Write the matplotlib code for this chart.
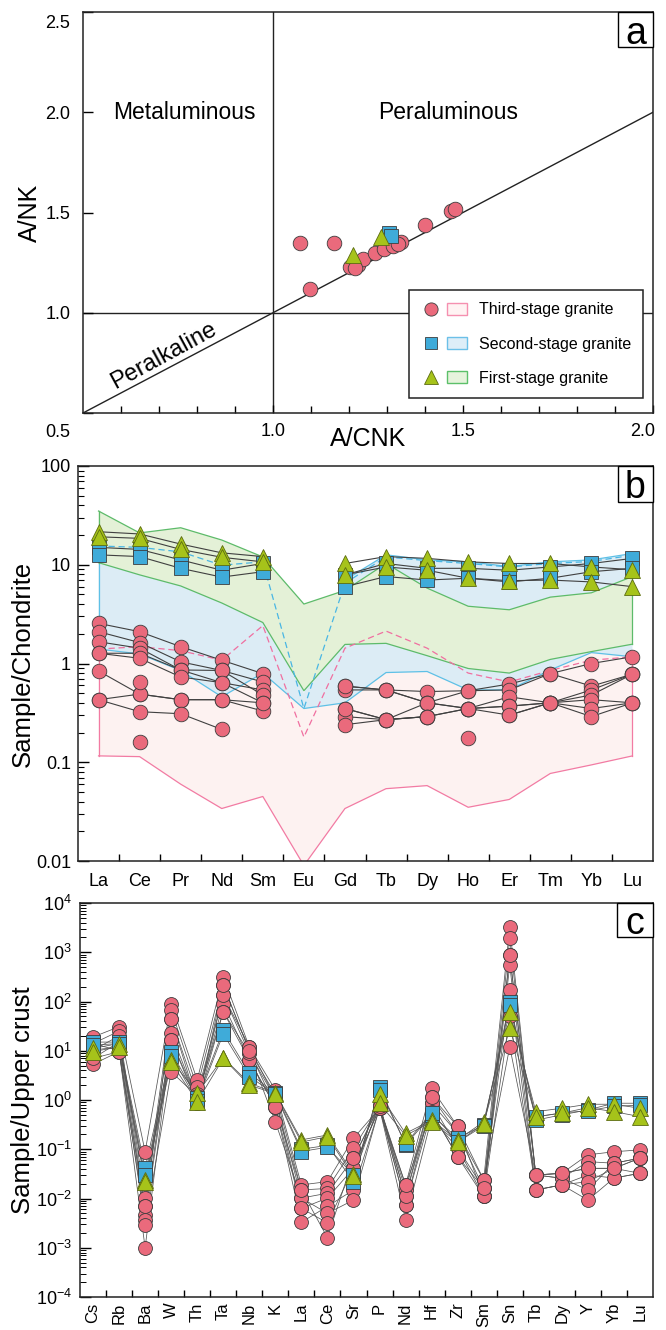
import numpy as np
import matplotlib
matplotlib.use('Agg')
import matplotlib.pyplot as plt
from matplotlib.lines import Line2D
from matplotlib.patches import Patch, Rectangle
from matplotlib.legend_handler import HandlerTuple
import matplotlib.transforms as mtransforms
from matplotlib.ticker import LogLocator, FixedLocator, NullFormatter, LogFormatterSciNotation

plt.rcParams['font.family'] = ['Liberation Sans', 'DejaVu Sans']
plt.rcParams['mathtext.fontset'] = 'custom'
plt.rcParams['mathtext.rm'] = 'Liberation Sans'
plt.rcParams['mathtext.it'] = 'Liberation Sans:italic'
plt.rcParams['mathtext.bf'] = 'Liberation Sans:bold'
nan = np.nan

# ---------------- Panel a data (A/CNK vs A/NK) ----------------
a_third_x = [1.072, 1.161, 1.098, 1.203, 1.223, 1.237, 1.268, 1.293, 1.315, 1.338, 1.400, 1.469, 1.480, 1.215, 1.330]
a_third_y = [1.346, 1.346, 1.120, 1.230, 1.238, 1.267, 1.300, 1.320, 1.333, 1.355, 1.440, 1.509, 1.516, 1.225, 1.345]
a_second_x = [1.306, 1.310]
a_second_y = [1.400, 1.385]
a_first_x = [1.210, 1.284]
a_first_y = [1.290, 1.376]

# ---------------- Panel b data (REE / chondrite) ----------------
ree = ['La', 'Ce', 'Pr', 'Nd', 'Sm', 'Eu', 'Gd', 'Tb', 'Dy', 'Ho', 'Er', 'Tm', 'Yb', 'Lu']
b_third = [
    [2.55, 2.10, 1.48, 1.08, 0.79, nan, 0.59, 0.54, 0.52, 0.53, 0.62, 0.79, 1.00, 1.17],
    [2.10, 1.63, 1.04, 0.85, 0.65, nan, 0.54, 0.54, 0.40, 0.53, 0.54, 0.79, 0.59, 0.78],
    [1.66, 1.43, 0.86, 0.64, 0.54, nan, 0.59, 0.54, 0.40, 0.35, 0.46, 0.40, 0.54, 0.78],
    [1.27, 1.27, 0.86, 0.85, 0.48, nan, 0.35, 0.27, 0.40, 0.35, 0.37, 0.40, 0.48, 0.78],
    [1.27, 1.13, 0.73, 0.64, 0.40, nan, 0.29, 0.27, 0.29, 0.35, 0.30, 0.40, 0.43, 0.40],
    [0.84, 0.49, 0.43, 0.43, 0.33, nan, 0.24, 0.27, 0.29, 0.35, 0.37, 0.40, 0.35, 0.40],
    [0.43, 0.49, 0.43, 0.43, 0.40, nan, 0.35, 0.27, 0.29, nan, 0.30, 0.40, 0.29, 0.40],
    [0.43, 0.325, 0.31, 0.215, nan, nan, nan, nan, nan, 0.175, nan, nan, nan, nan],
    [nan, 0.65, nan, nan, nan, nan, nan, nan, nan, nan, nan, nan, nan, nan],
    [nan, 0.16, nan, nan, nan, nan, nan, nan, nan, nan, nan, nan, nan, nan],
]
b_second = [
    [15.0, 14.3, 11.2, 8.8, 10.3, nan, 7.9, 10.3, 9.2, 9.2, 8.8, 9.5, 10.3, 11.6],
    [12.6, 12.1, 9.2, 7.5, 8.5, nan, 6.0, 7.6, 7.0, 7.3, 6.7, 7.3, 8.5, 9.2],
]
b_first = [
    [21.6, 20.5, 16.2, 13.2, 12.1, nan, 10.3, 12.1, 11.6, 10.7, 10.3, 10.3, 9.5, 8.9],
    [19.2, 18.5, 14.3, 11.9, 10.7, nan, 7.9, 9.5, 8.8, 7.3, 6.9, 7.0, 6.7, 6.0],
]
# reference fields
field_third_up = [1.40, 1.25, 0.85, 0.46, 0.80, 0.35, 0.40, 0.81, 0.83, 0.54, 0.54, 0.86, 1.29, 1.17]
field_third_lo = [0.116, 0.114, 0.060, 0.034, 0.045, 0.009, 0.034, 0.054, 0.058, 0.035, 0.042, 0.077, 0.094, 0.116]
field_second_up = [15.0, 15.0, 13.0, 10.0, 11.0, 0.50, 7.0, 12.6, 11.2, 10.7, 9.6, 10.7, 11.2, 13.0]
field_second_lo = [1.40, 1.25, 0.85, 0.46, 0.80, 0.35, 0.40, 0.81, 0.83, 0.54, 0.54, 0.86, 1.29, 1.17]
field_first_up = [35.0, 21.0, 23.7, 17.8, 12.0, 4.0, 5.5, 10.3, 5.8, 3.8, 3.5, 4.7, 5.2, 7.6]
field_first_lo = [10.5, 7.9, 6.1, 4.1, 2.6, 0.53, 1.56, 1.60, 1.20, 0.89, 0.80, 1.10, 1.32, 1.57]
dash_third = [1.40, 1.48, 1.35, 1.08, 2.42, 0.18, 1.43, 2.13, 1.43, 0.80, 0.65, 0.85, 1.08, 1.17]
dash_second = [15.5, 15.0, 13.5, 9.9, 10.7, 0.35, 6.5, 12.0, 11.0, 10.3, 9.5, 10.3, 10.8, 12.5]

# ---------------- Panel c data (upper crust normalised) ----------------
elems = ['Cs', 'Rb', 'Ba', 'W', 'Th', 'Ta', 'Nb', 'K', 'La', 'Ce', 'Sr', 'P', 'Nd', 'Hf', 'Zr',
         'Sm', 'Sn', 'Tb', 'Dy', 'Y', 'Yb', 'Lu']
c_third = [
    [19.0, 30.7, 0.089, 91, 2.55, 318, 12.0, 1.60, 0.0189, 0.022, 0.167, 0.68, 0.0189, 1.73, 0.29, 0.024, 3270, 0.030, 0.0325, 0.077, 0.089, 0.097],
    [14.0, 25.0, 0.0102, 67, 1.80, 214, 10.0, 1.30, 0.0149, 0.016, 0.105, 0.75, 0.0149, 1.17, 0.21, 0.016, 1910, 0.030, 0.0258, 0.056, 0.052, 0.066],
    [10.3, 20.0, 0.0069, 45, 1.30, 134, 8.9, 1.08, 0.0102, 0.0128, 0.066, 0.80, 0.0110, 0.86, 0.105, 0.011, 870, 0.030, 0.0325, 0.041, 0.041, 0.066],
    [7.0, 15.0, 0.0047, 22.5, 1.00, 91, 6.5, 0.73, 0.0063, 0.0102, 0.041, 0.70, 0.0075, 0.58, 0.071, 0.011, 548, 0.0149, 0.0189, 0.030, 0.026, 0.0325],
    [5.3, 9.6, 0.0037, 16.5, 0.86, 62, 6.5, 0.73, 0.0033, 0.0069, 0.0149, 0.68, 0.0037, 0.43, 0.105, 0.016, 170, 0.0149, 0.0189, 0.022, 0.041, 0.0325],
    [10.3, 12.0, 0.0029, 3.75, 1.20, 62, 8.9, 0.36, 0.0102, 0.0050, 0.0093, 0.70, 0.0075, 0.86, 0.21, 0.024, 12, 0.030, 0.0258, 0.0149, 0.052, 0.066],
    [14.0, 10.0, 0.0010, 16.5, 1.00, 134, 12.0, 1.08, 0.0063, 0.0032, 0.041, 0.68, 0.0110, 1.17, 0.29, 0.011, 50, 0.0149, 0.0189, 0.0093, 0.026, 0.0325],
    [7.0, 9.6, 0.0069, 45, 0.86, 214, 10.0, 0.73, 0.0149, 0.0016, 0.066, 0.75, 0.0189, 0.58, 0.071, 0.016, 870, 0.030, 0.0325, 0.041, 0.041, 0.066],
]
c_second = [
    [15.0, 15.0, 0.041, 9.6, 1.08, 26.0, 3.5, 1.37, 0.100, 0.120, 0.022, 1.86, 0.122, 0.50, 0.167, 0.31, 98, 0.39, 0.50, 0.63, 0.86, 0.86],
    [13.0, 14.0, 0.030, 8.0, 0.95, 22.0, 3.0, 1.30, 0.090, 0.110, 0.030, 1.60, 0.130, 0.55, 0.140, 0.30, 85, 0.45, 0.55, 0.60, 0.75, 0.78],
]
c_first = [
    [11.2, 14.0, 0.024, 6.5, 1.37, 7.2, 2.2, 1.40, 0.155, 0.195, 0.032, 1.30, 0.21, 0.39, 0.155, 0.36, 62, 0.58, 0.68, 0.82, 0.82, 0.68],
    [9.6, 12.0, 0.022, 5.8, 0.92, 7.0, 2.0, 1.35, 0.140, 0.180, 0.028, 0.86, 0.19, 0.36, 0.140, 0.33, 28.5, 0.46, 0.54, 0.70, 0.58, 0.46],
]
c_yticks = [1e-4, 1e-3, 1e-2, 1e-1, 1e0, 1e1, 1e2, 1e3, 1e4]

# ---------------- styling ----------------
C_PINK = '#ea6a7c'
C_BLUE = '#3fabd9'
C_GREEN = '#a6c31a'
E_MARK = '#3d3d3d'
E_GREEN = '#5b6b10'

W_PX, H_PX = 666, 1330
fig = plt.figure(figsize=(W_PX / 100, H_PX / 100), dpi=100)


def axes_px(left, top, right, bottom):
    return fig.add_axes([left / W_PX, 1 - bottom / H_PX, (right - left) / W_PX, (bottom - top) / H_PX])


def corner_label(ax, s, w_px, h_px, fs=27):
    bb = ax.get_position()
    W = bb.width * W_PX
    H = bb.height * H_PX
    ax.add_patch(Rectangle((1 - w_px / W, 1 - h_px / H), w_px / W, h_px / H, transform=ax.transAxes,
                           fc='white', ec='black', lw=1.0, zorder=20, clip_on=False))
    ax.text(1 - w_px / W / 2, 1 - h_px / H / 2, s, transform=ax.transAxes, ha='center',
            va='center_baseline', fontsize=fs, zorder=21)


def shift(text, dx, dy):
    text.set_transform(text.get_transform() + mtransforms.ScaledTranslation(dx / 100, dy / 100, fig.dpi_scale_trans))


def style_spines(ax):
    for sp in ax.spines.values():
        sp.set_linewidth(1.1)
        sp.set_color('#222222')


# ================= Panel a =================
axa = axes_px(83, 12, 653, 413)
style_spines(axa)
axa.set_xlim(0.5, 2.0)
axa.set_ylim(0.5, 2.5)
axa.axvline(1.0, color='#222222', lw=1.0, zorder=1)
axa.axhline(1.0, color='#222222', lw=1.0, zorder=1)
axa.plot([0.5, 2.0], [0.5, 2.0], color='#222222', lw=1.0, zorder=1)
axa.text(0.766, 2.0, 'Metaluminous', fontsize=16.5, ha='center', va='center')
axa.text(1.46, 2.0, 'Peraluminous', fontsize=16.5, ha='center', va='center')
axa.text(0.712, 0.785, 'Peralkaline', fontsize=17, ha='center', va='center', rotation=28.5,
         rotation_mode='anchor')
axa.plot(a_third_x, a_third_y, 'o', ms=10.5, mfc=C_PINK, mec=E_MARK, mew=0.6, ls='none', zorder=5)
axa.plot(a_second_x, a_second_y, 's', ms=10.5, mfc=C_BLUE, mec=E_MARK, mew=0.6, ls='none', zorder=6)
axa.plot(a_first_x, a_first_y, '^', ms=12, mfc=C_GREEN, mec=E_GREEN, mew=0.6, ls='none', zorder=7)

axa.set_xticks([1.0, 1.5, 2.0])
axa.set_xticklabels(['1.0', '1.5', '2.0'])
axa.set_xticks(np.arange(0.6, 1.95, 0.1), minor=True)
axa.set_yticks([0.5, 1.0, 1.5, 2.0, 2.5])
axa.set_yticklabels(['0.5', '1.0', '1.5', '2.0', '2.5'])
axa.tick_params(axis='x', which='major', direction='in', length=6, width=1, labelsize=13, pad=7, top=False)
axa.tick_params(axis='x', which='minor', direction='in', length=5, width=1, top=False)
axa.tick_params(axis='y', which='major', direction='in', length=7, width=1, labelsize=13, pad=9, right=False)
ylab = axa.get_yticklabels()
shift(ylab[0], 0, -17)
shift(ylab[-1], 0, -9)
xlab = axa.get_xticklabels()
shift(xlab[-1], -10, 0)
axa.set_ylabel('A/NK', fontsize=18, va='center')
axa.yaxis.set_label_coords(-0.093, 0.5)
axa.set_xlabel('A/CNK', fontsize=18, va='center')
axa.xaxis.set_label_coords(0.5, -0.066)

h3 = (Line2D([], [], marker='o', ls='none', ms=9.5, mfc=C_PINK, mec=E_MARK, mew=0.6),
      Patch(fc='#fff3f3', ec='#f590b0', lw=1.0))
h2 = (Line2D([], [], marker='s', ls='none', ms=9, mfc=C_BLUE, mec=E_MARK, mew=0.6),
      Patch(fc='#deeef8', ec='#6cc0e8', lw=1.0))
h1 = (Line2D([], [], marker='^', ls='none', ms=10, mfc=C_GREEN, mec=E_GREEN, mew=0.6),
      Patch(fc='#e6f3dc', ec='#5cc06a', lw=1.0))
leg = axa.legend([h3, h2, h1], ['Third-stage granite', 'Second-stage granite', 'First-stage granite'],
                 handler_map={tuple: HandlerTuple(ndivide=None, pad=0.35)},
                 loc='lower right', bbox_to_anchor=(0.982, 0.038), fontsize=11.5, frameon=True,
                 fancybox=False, framealpha=1, edgecolor='#222222', handlelength=2.9,
                 handleheight=0.8, handletextpad=0.7, labelspacing=1.2, borderpad=0.75,
                 borderaxespad=0)
leg.get_frame().set_linewidth(1.1)
leg.set_zorder(30)
corner_label(axa, 'a', 35, 35)

# ================= Panel b =================
axb = axes_px(78, 466, 653, 861)
style_spines(axb)
xb = np.arange(len(ree))
axb.set_yscale('log')
axb.set_xlim(-0.5, len(ree) - 0.5)
axb.set_ylim(0.01, 100)

axb.fill_between(xb, field_third_lo, field_third_up, facecolor='#fdf2f1', edgecolor='none', zorder=1)
axb.fill_between(xb, field_second_lo, field_second_up, facecolor='#dcecf5', edgecolor='none', zorder=1.1)
axb.fill_between(xb, field_first_lo, field_first_up, facecolor='#e4f1d7', edgecolor='none', zorder=1.2)
# field outlines
axb.plot(xb, field_third_lo, color='#f27ba3', lw=0.9, zorder=1.3)
axb.plot([xb[0], xb[0]], [field_third_lo[0], field_third_up[0]], color='#f27ba3', lw=0.9, zorder=1.3)
axb.plot([xb[-1], xb[-1]], [field_third_lo[-1], field_third_up[-1]], color='#f27ba3', lw=0.9, zorder=1.3)
axb.plot(xb, field_second_lo, color='#5ec0e6', lw=0.9, zorder=1.4)
axb.plot(xb[6:], field_second_up[6:], color='#5ec0e6', lw=0.9, zorder=1.4)
axb.plot([xb[0], xb[0]], [field_second_lo[0], field_second_up[0]], color='#5ec0e6', lw=0.9, zorder=1.15)
axb.plot(xb, field_first_lo, color='#5dbb6a', lw=0.9, zorder=1.5)
axb.plot(xb, field_first_up, color='#5dbb6a', lw=0.9, zorder=1.5)
axb.plot([xb[0], xb[0]], [field_first_lo[0], field_first_up[0]], color='#5dbb6a', lw=0.9, zorder=1.5)
axb.plot([xb[-1], xb[-1]], [field_first_lo[-1], field_first_up[-1]], color='#5dbb6a', lw=0.9, zorder=1.5)
axb.plot(xb, dash_third, color='#f06fa0', lw=0.9, ls=(0, (5, 3)), zorder=1.6)
axb.plot(xb, dash_second, color='#49b6e4', lw=0.9, ls=(0, (5, 3)), zorder=1.6)

for s in b_third:
    axb.plot(xb, s, color='#404040', lw=0.8, zorder=3)
for s in b_second:
    axb.plot(xb, s, color='#404040', lw=0.8, zorder=3)
for s in b_first:
    axb.plot(xb, s, color='#404040', lw=0.8, zorder=3)
for s in b_third:
    axb.plot(xb, s, 'o', ms=10.5, mfc=C_PINK, mec=E_MARK, mew=0.6, ls='none', zorder=4)
for s in b_second:
    axb.plot(xb, s, 's', ms=10.5, mfc=C_BLUE, mec=E_MARK, mew=0.6, ls='none', zorder=5)
for s in b_first:
    axb.plot(xb, s, '^', ms=12, mfc=C_GREEN, mec=E_GREEN, mew=0.6, ls='none', zorder=6)

axb.yaxis.set_major_locator(FixedLocator([0.01, 0.1, 1, 10, 100]))
axb.set_yticklabels(['0.01', '0.1', '1', '10', '100'])
axb.yaxis.set_minor_locator(LogLocator(base=10, subs=np.arange(2, 10), numticks=20))
axb.yaxis.set_minor_formatter(NullFormatter())
axb.tick_params(axis='y', which='major', direction='in', length=8, width=1, labelsize=13, pad=5, right=False)
axb.tick_params(axis='y', which='minor', direction='in', length=4.5, width=0.8, right=False)
axb.set_xticks(xb)
axb.set_xticklabels(ree)
axb.set_xticks(np.arange(0.5, len(ree) - 1, 1.0), minor=True)
axb.tick_params(axis='x', which='major', length=0, labelsize=13, pad=9, top=False)
axb.tick_params(axis='x', which='minor', direction='in', length=5, width=1, top=False)
axb.set_ylabel('Sample/Chondrite', fontsize=18.5, va='center')
axb.yaxis.set_label_coords(-0.096, 0.5)
corner_label(axb, 'b', 35, 36)

# ================= Panel c =================
axc = axes_px(80, 903, 653, 1297)
style_spines(axc)
xc = np.arange(len(elems))
axc.set_yscale('log')
axc.set_xlim(-0.5, len(elems) - 0.5)
axc.set_ylim(1e-4, 1e4)
for s in c_third + c_second + c_first:
    axc.plot(xc, s, color='#555555', lw=0.55, zorder=2)
for s in c_third:
    axc.plot(xc, s, 'o', ms=10, mfc=C_PINK, mec=E_MARK, mew=0.6, ls='none', zorder=4)
for s in c_second:
    axc.plot(xc, s, 's', ms=10, mfc=C_BLUE, mec=E_MARK, mew=0.6, ls='none', zorder=5)
for s in c_first:
    axc.plot(xc, s, '^', ms=11.5, mfc=C_GREEN, mec=E_GREEN, mew=0.6, ls='none', zorder=6)

axc.yaxis.set_major_locator(FixedLocator(c_yticks))
axc.yaxis.set_major_formatter(LogFormatterSciNotation(base=10))
axc.yaxis.set_minor_locator(LogLocator(base=10, subs=np.arange(2, 10), numticks=40))
axc.yaxis.set_minor_formatter(NullFormatter())
axc.tick_params(axis='y', which='major', direction='in', length=8, width=1, labelsize=13, pad=6, right=False)
axc.tick_params(axis='y', which='minor', direction='in', length=4.5, width=0.7, right=False)
axc.set_xticks(xc)
axc.set_xticklabels(elems, rotation=90)
axc.set_xticks(np.arange(0.5, len(elems) - 1, 1.0), minor=True)
axc.tick_params(axis='x', which='major', length=0, labelsize=12, pad=4, top=False)
axc.tick_params(axis='x', which='minor', direction='in', length=5, width=1, top=False)
axc.set_ylabel('Sample/Upper crust', fontsize=18.5, va='center')
axc.yaxis.set_label_coords(-0.099, 0.5)
corner_label(axc, 'c', 36, 34)

fig.savefig('out.png', dpi=100)
